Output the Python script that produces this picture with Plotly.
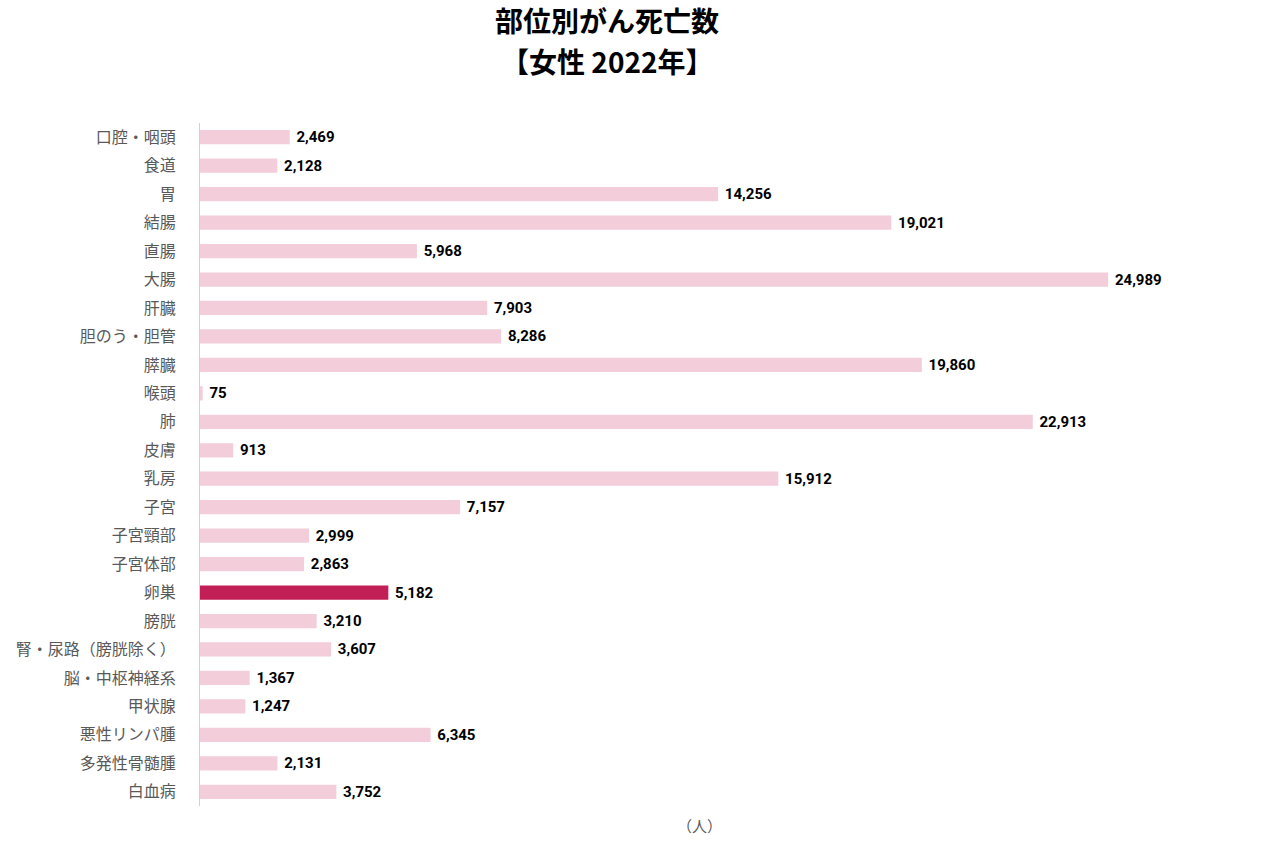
import plotly.graph_objects as go

categories = ["口腔・咽頭", "食道", "胃", "結腸", "直腸", "大腸", "肝臓", "胆のう・胆管",
              "膵臓", "喉頭", "肺", "皮膚", "乳房", "子宮", "子宮頸部", "子宮体部", "卵巣",
              "膀胱", "腎・尿路（膀胱除く）", "脳・中枢神経系", "甲状腺", "悪性リンパ腫",
              "多発性骨髄腫", "白血病"]
deaths = [2469, 2128, 14256, 19021, 5968, 24989, 7903, 8286, 19860, 75, 22913, 913,
          15912, 7157, 2999, 2863, 5182, 3210, 3607, 1367, 1247, 6345, 2131, 3752]
highlight = "卵巣"

title_line1 = "部位別がん死亡数"
title_line2 = "【女性 2022年】"
unit_label = "（人）"

PINK = "#F4CDDA"
CRIMSON = "#C31F57"
colors = [CRIMSON if c == highlight else PINK for c in categories]

fig = go.Figure(go.Bar(
    x=deaths, y=categories, orientation="h",
    marker=dict(color=colors, line=dict(width=0)),
    width=0.5,
    texttemplate=" %{x:,}", textposition="outside", cliponaxis=False,
    constraintext="none",
    textfont=dict(family="Roboto", size=15, color="#000000", weight="bold"),
    hoverinfo="skip",
))

fig.update_layout(
    width=1275, height=857,
    margin=dict(l=200, r=21, t=123, b=51),
    paper_bgcolor="white", plot_bgcolor="white",
    showlegend=False,
    font=dict(family="Noto Sans CJK JP"),
    xaxis=dict(range=[0, 29000], showgrid=False, zeroline=False, showticklabels=False,
               showline=False, ticks=""),
    yaxis=dict(autorange="reversed", showgrid=False, zeroline=False,
               showline=True, linecolor="#CDD3DD", linewidth=1,
               ticks="", ticklabelstandoff=20,
               tickfont=dict(family="Noto Sans CJK JP", size=16, color="#595959")),
    annotations=[
        dict(text=title_line1, xref="paper", yref="paper", x=0.386, y=1.1515,
             showarrow=False, xanchor="center", yanchor="middle",
             font=dict(family="Noto Sans CJK JP", size=28, color="#000000", weight="bold")),
        dict(text=title_line2, xref="paper", yref="paper", x=0.386, y=1.0905,
             showarrow=False, xanchor="center", yanchor="middle",
             font=dict(family="Noto Sans CJK JP", size=28, color="#000000", weight="bold")),
        dict(text=unit_label, xref="paper", yref="paper", x=0.474, y=-0.028,
             showarrow=False, xanchor="center", yanchor="middle",
             font=dict(family="Noto Sans CJK JP", size=15, color="#595959")),
    ],
)

fig.write_html("out.html", config={"displayModeBar": False},
               post_script="document.body.style.margin='0';")
